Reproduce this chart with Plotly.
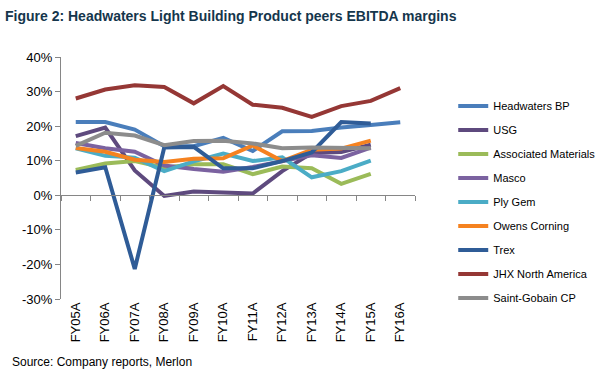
import plotly.graph_objects as go

categories = ["FY05A", "FY06A", "FY07A", "FY08A", "FY09A", "FY10A",
              "FY11A", "FY12A", "FY13A", "FY14A", "FY15A", "FY16A"]

headwaters = [21.2, 21.2, 19.0, 14.2, 14.2, 16.6, 12.8, 18.5, 18.6, 19.6, 20.3, 21.1]
usg = [17.1, 19.6, 7.2, -0.2, 1.1, 0.8, 0.5, 7.0, 12.2, 12.5, 14.6]
assoc = [7.3, 9.2, 9.9, 8.0, 9.0, 9.0, 6.1, 8.3, 7.8, 3.3, 6.2]
masco = [15.1, 13.6, 12.6, 8.6, 7.6, 6.8, 8.2, 9.8, 11.6, 10.8, 13.8]
plygem = [13.6, 11.4, 10.9, 7.0, 9.8, 12.1, 9.9, 11.0, 5.2, 7.0, 10.0]
owens = [13.7, 12.6, 10.3, 9.6, 10.6, 10.7, 14.4, 9.9, 13.2, 13.5, 15.8]
trex = [6.6, 8.1, -21.3, 13.8, 14.0, 7.8, 7.8, 9.9, 12.4, 21.2, 20.8]
jhx = [28.0, 30.6, 31.8, 31.3, 26.6, 31.6, 26.2, 25.3, 22.7, 25.8, 27.3, 31.0]
saint = [14.3, 18.1, 17.3, 14.5, 15.7, 15.8, 15.0, 13.6, 13.8, 13.8, 13.6]

series_names = ["Headwaters BP", "USG", "Associated Materials", "Masco", "Ply Gem",
                "Owens Corning", "Trex", "JHX North America", "Saint-Gobain CP"]
series_values = [headwaters, usg, assoc, masco, plygem, owens, trex, jhx, saint]
series_colors = ["#4A7EBB", "#5E4A7E", "#9BBB59", "#7B62A0", "#4BACC6",
                 "#F58220", "#2F5C97", "#953735", "#8C8C8C"]

y_ticks = [-30, -20, -10, 0, 10, 20, 30, 40]
y_ticktext = [f"{v}%" for v in y_ticks]

FONT = "Liberation Sans, Arial, sans-serif"

fig = go.Figure()
for i, (name, vals, col) in enumerate(zip(series_names, series_values, series_colors)):
    fig.add_trace(go.Scatter(
        x=categories[:len(vals)], y=vals, name=name, mode="lines",
        line=dict(color=col, width=4), legendgroup=f"g{i}",
        hovertemplate="%{x}: %{y:.1f}%<extra>" + name + "</extra>",
    ))

# invisible helper trace for the zero-crossing category axis (tick marks)
fig.add_trace(go.Scatter(x=categories, y=[0] * len(categories), xaxis="x2",
                         mode="markers", marker=dict(opacity=0), showlegend=False,
                         hoverinfo="skip"))

ymin, ymax = -30, 40
fig.update_layout(
    width=612, height=376,
    margin=dict(l=61, r=163, t=57, b=77),
    paper_bgcolor="white", plot_bgcolor="white",
    font=dict(family=FONT, color="#000000"),
    title=dict(text="<b>Figure 2: Headwaters Light Building Product peers EBITDA margins</b>",
               xref="container", yref="container", x=5 / 612, xanchor="left",
               y=1 - 16 / 376, yanchor="middle",
               font=dict(family=FONT, size=14, color="#15364C")),
    xaxis=dict(type="category", categoryorder="array", categoryarray=categories,
               range=[-0.5, 11.5], showline=False, ticks="", showgrid=False,
               tickangle=-90, tickfont=dict(size=13, family=FONT), zeroline=False),
    xaxis2=dict(type="category", categoryorder="array", categoryarray=categories,
                overlaying="x", anchor="free", position=(0 - ymin) / (ymax - ymin),
                range=[-0.5, 11.5], showline=True, linecolor="#868686", linewidth=1,
                ticks="outside", tickson="boundaries", ticklen=5, tickcolor="#868686",
                showticklabels=False, showgrid=False, zeroline=False),
    yaxis=dict(range=[ymin, ymax], tickvals=y_ticks, ticktext=y_ticktext,
               showline=True, linecolor="#868686", linewidth=1, ticks="outside",
               ticklen=5, tickcolor="#868686", showgrid=False, zeroline=False,
               tickfont=dict(size=13, family=FONT)),
    legend=dict(x=1.108, xanchor="left", y=0.857, yanchor="top",
                font=dict(size=11, family=FONT), tracegroupgap=5,
                bgcolor="rgba(0,0,0,0)", itemwidth=30),
    annotations=[dict(text="Source: Company reports, Merlon", xref="paper", yref="paper",
                      x=-56 / 388, xanchor="left", y=(299 - 362) / 242, yanchor="middle",
                      showarrow=False, font=dict(size=12, family=FONT))],
    showlegend=True,
)

fig.write_html("out.html", config={"displayModeBar": False},
               post_script="document.body.style.margin='0px';")
